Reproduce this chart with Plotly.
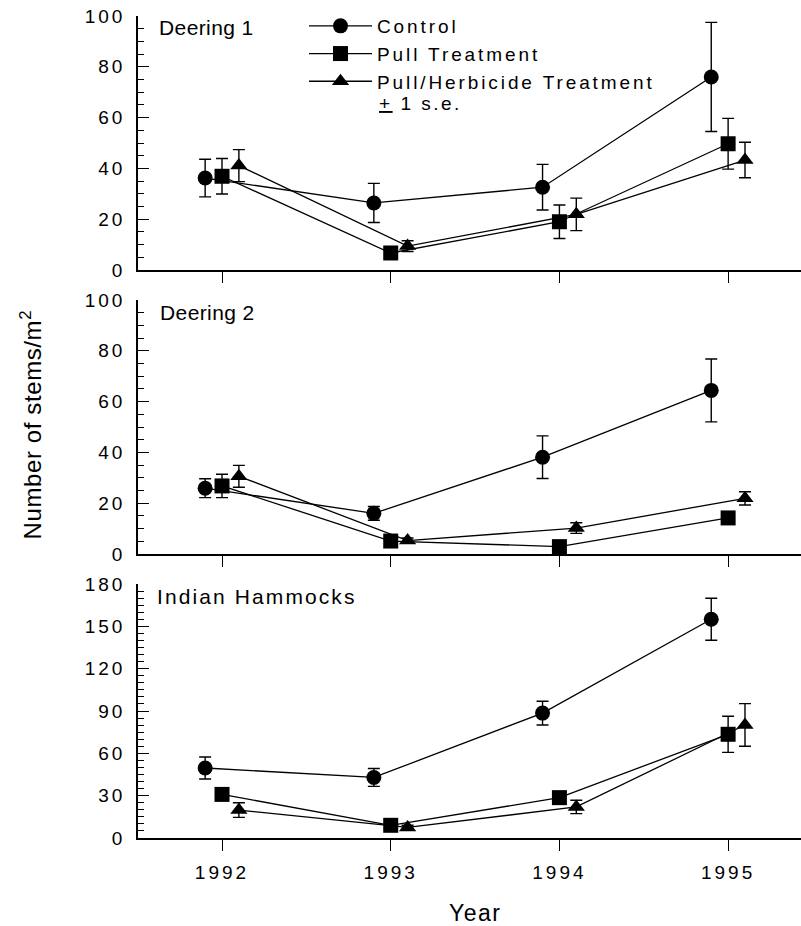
import plotly.graph_objects as go

# ---------------- data ----------------
years = [1992, 1993, 1994, 1995]
series_names = ["Control", "Pull Treatment", "Pull/Herbicide Treatment"]
panel_names = ["Deering 1", "Deering 2", "Indian Hammocks"]

# Deering 1
d1_control = [36.2, 26.4, 32.6, 76.0]
d1_control_se = [7.4, 7.7, 9.0, 21.5]
d1_pull = [36.9, 6.7, 19.0, 49.7]
d1_pull_se = [7.0, 1.0, 6.6, 10.0]
d1_herb = [41.1, 9.4, 21.9, 43.3]
d1_herb_se = [6.3, 2.1, 6.4, 7.0]

# Deering 2
d2_control = [25.9, 16.0, 38.1, 64.4]
d2_control_se = [3.7, 2.7, 8.4, 12.4]
d2_pull = [26.8, 5.1, 2.9, 14.2]
d2_pull_se = [4.6, 1.0, 0.8, 1.2]
d2_herb = [30.6, 5.3, 10.2, 21.9]
d2_herb_se = [4.3, 1.0, 2.1, 2.6]

# Indian Hammocks
ih_control = [49.6, 42.9, 88.5, 155.0]
ih_control_se = [7.8, 6.3, 8.4, 14.9]
ih_pull = [30.9, 9.0, 28.6, 73.5]
ih_pull_se = [2.0, 1.5, 2.0, 12.8]
ih_herb = [19.8, 7.5, 22.0, 80.1]
ih_herb_se = [5.2, 1.5, 4.7, 15.1]

y_ranges = [[0, 100], [0, 100], [0, 180]]
y_dticks = [20, 20, 30]
legend_note = "<u>+</u> 1 s.e."
x_title = "Year"
y_title = "Number of stems/m<sup>2</sup>"

panels = [
    [(d1_control, d1_control_se), (d1_pull, d1_pull_se), (d1_herb, d1_herb_se)],
    [(d2_control, d2_control_se), (d2_pull, d2_pull_se), (d2_herb, d2_herb_se)],
    [(ih_control, ih_control_se), (ih_pull, ih_pull_se), (ih_herb, ih_herb_se)],
]

# ---------------- style ----------------
FONT = "Liberation Sans, Arial, sans-serif"
symbols = ["circle", "square", "triangle-up"]
offsets = [-0.1, 0.0, 0.1]
W, H = 801, 926
ML, MR, MT, MB = 138, 0, 16, 88
domains = [[0.691, 1.0], [0.3455, 0.6545], [0.0, 0.309]]
plot_w = W - ML - MR
plot_h = H - MT - MB

fig = go.Figure()

for p, panel in enumerate(panels):
    xa = "x" if p == 0 else f"x{p+1}"
    ya = "y" if p == 0 else f"y{p+1}"
    for s, (vals, se) in enumerate(panel):
        fig.add_trace(go.Scatter(
            x=[yr + offsets[s] for yr in years],
            y=vals,
            xaxis=xa, yaxis=ya,
            mode="lines+markers",
            name=series_names[s],
            showlegend=(p == 0),
            line=dict(color="black", width=1.3),
            marker=dict(symbol=symbols[s], size=15, color="black"),
            error_y=dict(type="data", array=se, visible=True,
                         color="black", thickness=1.4, width=6),
        ))

layout = dict(
    width=W, height=H,
    margin=dict(l=ML, r=MR, t=MT, b=MB, pad=0),
    paper_bgcolor="white", plot_bgcolor="white",
    font=dict(family=FONT, size=19, color="black"),
    showlegend=True,
    legend=dict(
        x=(304 - ML) / plot_w, xanchor="left",
        y=1.0 + 9 / plot_h, yanchor="top",
        bgcolor="rgba(0,0,0,0)",
        font=dict(family=FONT, size=19, color="black"),
        itemwidth=63,
        tracegroupgap=0,
    ),
)

for p in range(3):
    xk = "xaxis" if p == 0 else f"xaxis{p+1}"
    yk = "yaxis" if p == 0 else f"yaxis{p+1}"
    ya_ref = "y" if p == 0 else f"y{p+1}"
    xa_ref = "x" if p == 0 else f"x{p+1}"
    layout[xk] = dict(
        domain=[0, 1], anchor=ya_ref,
        range=[1991.502, 1995.432],
        tickmode="array", tickvals=years,
        ticktext=[str(y) for y in years] if p == 2 else ["" for _ in years],
        showticklabels=(p == 2),
        ticks="outside", ticklen=11, tickwidth=1.4, tickcolor="black",
        showline=True, linecolor="black", linewidth=1.5,
        showgrid=False, zeroline=False,
        ticklabelstandoff=5,
        tickfont=dict(family=FONT, size=19, color="black"),
    )
    layout[yk] = dict(
        domain=domains[p], anchor=xa_ref,
        range=y_ranges[p],
        tickmode="linear", tick0=0, dtick=y_dticks[p],
        ticks="inside", ticklen=11, tickwidth=1.4, tickcolor="black",
        minor=dict(tickmode="linear", tick0=0, dtick=5, ticks="inside",
                   ticklen=6, tickwidth=1.1, tickcolor="black", showgrid=False),
        showline=True, linecolor="black", linewidth=1.5,
        showgrid=False, zeroline=False,
        ticklabelstandoff=7,
        tickfont=dict(family=FONT, size=19, color="black"),
    )

fig.update_layout(**layout)

annotations = []
label_px = [(157, 28), (158, 312), (155, 596)]
for p in range(3):
    xr = "x domain" if p == 0 else f"x{p+1} domain"
    yr = "y domain" if p == 0 else f"y{p+1} domain"
    dom = domains[p]
    top_px = MT + (1 - dom[1]) * plot_h
    bot_px = MT + (1 - dom[0]) * plot_h
    lx, ly = label_px[p]
    annotations.append(dict(
        text=panel_names[p], xref=xr, yref=yr,
        x=(lx - ML) / plot_w, y=(bot_px - ly) / (bot_px - top_px),
        xanchor="left", yanchor="middle", align="left", showarrow=False,
        font=dict(family=FONT, size=21, color="black"),
    ))

annotations.append(dict(
    text=legend_note, xref="paper", yref="paper",
    x=(377 - ML) / plot_w, y=(MT + plot_h - 104) / plot_h,
    xanchor="left", yanchor="middle", align="left", showarrow=False,
    font=dict(family=FONT, size=19, color="black"),
))
annotations.append(dict(
    text=y_title, xref="paper", yref="paper",
    x=(31 - ML) / plot_w, y=(MT + plot_h - 425) / plot_h,
    xanchor="center", yanchor="middle", textangle=-90, showarrow=False,
    font=dict(family=FONT, size=24, color="black"),
))
annotations.append(dict(
    text=x_title, xref="paper", yref="paper",
    x=(475 - ML) / plot_w, y=(MT + plot_h - 913) / plot_h,
    xanchor="center", yanchor="middle", showarrow=False,
    font=dict(family=FONT, size=23, color="black"),
))
fig.update_layout(annotations=annotations)

post = """
var st = document.createElement('style');
st.innerHTML = 'body{margin:0 !important;} ' +
  '.xaxislayer-above text, .yaxislayer-above text {letter-spacing: 3px;} ' +
  '.legendtext {letter-spacing: 2.9px;} ' +
  '.legend .scrollbox {clip-path: none !important;} ' +
  '.annotation-text {letter-spacing: 1.5px;} ' +
  '.annotation[data-index="0"] .annotation-text, .annotation[data-index="1"] .annotation-text {letter-spacing: 0.4px;} ' +
  '.annotation[data-index="2"] .annotation-text {letter-spacing: 2.1px;} ' +
  '.annotation[data-index="3"] .annotation-text {letter-spacing: 2.5px;} ' +
  '.annotation[data-index="4"] .annotation-text {letter-spacing: 0.6px;}';
document.head.appendChild(st);
"""
fig.write_html("out.html", post_script=post, config={"displayModeBar": False})
